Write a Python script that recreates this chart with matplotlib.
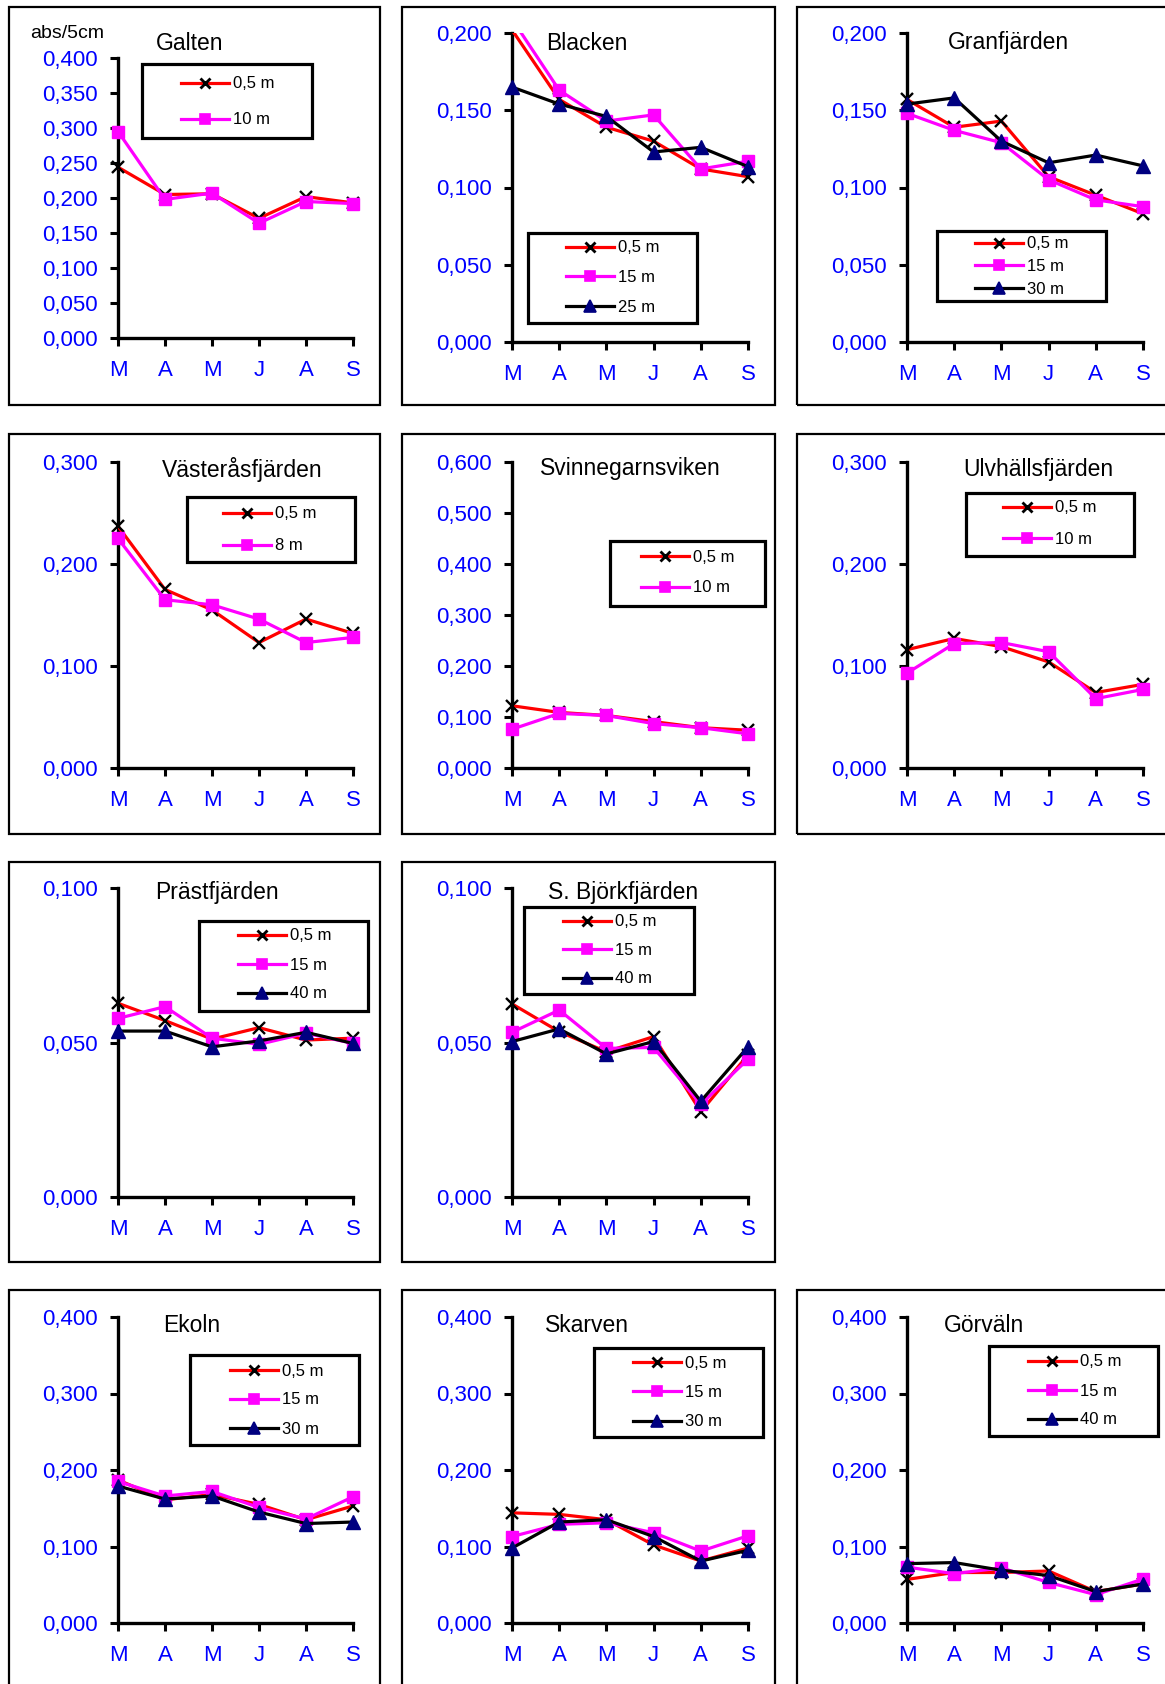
import numpy as np
import matplotlib
matplotlib.use("Agg")
import matplotlib.pyplot as plt
from matplotlib.lines import Line2D
from matplotlib.patches import Rectangle
from matplotlib.ticker import FuncFormatter

plt.rcParams['font.family'] = ['Liberation Sans', 'DejaVu Sans']

W, H = 1165, 1684
DPI = 100

months = ["M", "A", "M", "J", "A", "S"]

# Absorbance (abs/5cm) per month and sampling depth
galten_05 = [0.244, 0.205, 0.206, 0.171, 0.202, 0.193]
galten_10 = [0.295, 0.198, 0.207, 0.164, 0.195, 0.192]

blacken_05 = [0.202, 0.157, 0.139, 0.130, 0.112, 0.107]
blacken_15 = [0.209, 0.163, 0.143, 0.147, 0.112, 0.117]
blacken_25 = [0.165, 0.154, 0.146, 0.123, 0.126, 0.1135]

granf_05 = [0.157, 0.139, 0.143, 0.107, 0.095, 0.083]
granf_15 = [0.148, 0.137, 0.129, 0.105, 0.092, 0.0876]
granf_30 = [0.154, 0.158, 0.130, 0.116, 0.121, 0.114]

vasteras_05 = [0.237, 0.175, 0.155, 0.123, 0.146, 0.132]
vasteras_8 = [0.225, 0.165, 0.160, 0.146, 0.123, 0.128]

svinne_05 = [0.122, 0.109, 0.103, 0.091, 0.079, 0.074]
svinne_10 = [0.076, 0.107, 0.103, 0.087, 0.079, 0.067]

ulvh_05 = [0.116, 0.127, 0.119, 0.104, 0.074, 0.082]
ulvh_10 = [0.093, 0.122, 0.123, 0.114, 0.068, 0.077]

prast_05 = [0.0627, 0.0571, 0.0511, 0.0548, 0.0508, 0.0514]
prast_15 = [0.0578, 0.0616, 0.0514, 0.0494, 0.0530, 0.0497]
prast_40 = [0.0537, 0.0537, 0.0486, 0.0505, 0.0533, 0.0497]

bjork_05 = [0.0625, 0.0535, 0.0470, 0.0519, 0.0276, 0.0460]
bjork_15 = [0.0533, 0.0605, 0.0481, 0.0484, 0.0300, 0.0446]
bjork_40 = [0.0503, 0.0544, 0.0463, 0.0503, 0.0310, 0.0486]

ekoln_05 = [0.187, 0.161, 0.168, 0.155, 0.135, 0.153]
ekoln_15 = [0.185, 0.166, 0.172, 0.151, 0.136, 0.165]
ekoln_30 = [0.179, 0.162, 0.166, 0.145, 0.130, 0.132]

skarven_05 = [0.144, 0.142, 0.135, 0.102, 0.081, 0.098]
skarven_15 = [0.113, 0.129, 0.131, 0.118, 0.094, 0.114]
skarven_30 = [0.098, 0.132, 0.135, 0.113, 0.081, 0.095]

gorvaln_05 = [0.057, 0.066, 0.066, 0.068, 0.041, 0.051]
gorvaln_15 = [0.073, 0.0645, 0.072, 0.053, 0.037, 0.0575]
gorvaln_40 = [0.0776, 0.079, 0.069, 0.062, 0.041, 0.051]

LW = 2.3
STYLE_SURFACE = dict(color='#FF0000', marker='x', mec='black', mfc='black', ms=9.0, mew=1.7)
STYLE_MID = dict(color='#FF00FF', marker='s', mec='#FF00FF', mfc='#FF00FF', ms=8.5, mew=1.0)
STYLE_DEEP = dict(color='black', marker='^', mec='#000080', mfc='#000080', ms=9.5, mew=1.0)

# Layout in pixels: (left, top, right, bottom)
COLS_AX = [(118, 353), (512, 748), (907, 1143)]
COLS_FR = [(9, 380), (402, 775), (797, 1170)]
ROWS_FR = [(7, 405), (434, 834), (862, 1262), (1290, 1690)]

panels = [
    dict(title="Galten", tpos=(190, 43), ymax=0.4, step=0.05, r=0, c=0, ay=(58, 338),
         series=[("0,5 m", galten_05, STYLE_SURFACE), ("10 m", galten_10, STYLE_MID)],
         leg=dict(box=(142, 64, 312, 138), hx=181, y0=84, dy=36)),
    dict(title="Blacken", tpos=(587, 43), ymax=0.2, step=0.05, r=0, c=1, ay=(33, 342),
         series=[("0,5 m", blacken_05, STYLE_SURFACE), ("15 m", blacken_15, STYLE_MID),
                 ("25 m", blacken_25, STYLE_DEEP)],
         leg=dict(box=(528, 233, 697, 323), hx=566, y0=248, dy=29.5)),
    dict(title="Granfjärden", tpos=(1008, 42), ymax=0.2, step=0.05, r=0, c=2, ay=(33, 342),
         series=[("0,5 m", granf_05, STYLE_SURFACE), ("15 m", granf_15, STYLE_MID),
                 ("30 m", granf_30, STYLE_DEEP)],
         leg=dict(box=(937, 231, 1106, 301), hx=975, y0=244, dy=22.5)),
    dict(title="Västeråsfjärden", tpos=(242, 470), ymax=0.3, step=0.1, r=1, c=0, ay=(462, 768),
         series=[("0,5 m", vasteras_05, STYLE_SURFACE), ("8 m", vasteras_8, STYLE_MID)],
         leg=dict(box=(187, 497, 355, 562), hx=223, y0=514, dy=32)),
    dict(title="Svinnegarnsviken", tpos=(630, 468), ymax=0.6, step=0.1, r=1, c=1, ay=(462, 768),
         series=[("0,5 m", svinne_05, STYLE_SURFACE), ("10 m", svinne_10, STYLE_MID)],
         leg=dict(box=(610, 541, 765, 606), hx=641, y0=557, dy=31)),
    dict(title="Ulvhällsfjärden", tpos=(1038, 470), ymax=0.3, step=0.1, r=1, c=2, ay=(462, 768),
         series=[("0,5 m", ulvh_05, STYLE_SURFACE), ("10 m", ulvh_10, STYLE_MID)],
         leg=dict(box=(966, 493, 1134, 556), hx=1003, y0=508, dy=31)),
    dict(title="Prästfjärden", tpos=(217, 892), ymax=0.1, step=0.05, r=2, c=0, ay=(888, 1197),
         series=[("0,5 m", prast_05, STYLE_SURFACE), ("15 m", prast_15, STYLE_MID),
                 ("40 m", prast_40, STYLE_DEEP)],
         leg=dict(box=(199, 921, 368, 1011), hx=238, y0=936, dy=29)),
    dict(title="S. Björkfjärden", tpos=(623, 892), ymax=0.1, step=0.05, r=2, c=1, ay=(888, 1197),
         series=[("0,5 m", bjork_05, STYLE_SURFACE), ("15 m", bjork_15, STYLE_MID),
                 ("40 m", bjork_40, STYLE_DEEP)],
         leg=dict(box=(524, 907, 694, 994), hx=563, y0=922, dy=28.5)),
    dict(title="Ekoln", tpos=(192, 1325), ymax=0.4, step=0.1, r=3, c=0, ay=(1317, 1623),
         series=[("0,5 m", ekoln_05, STYLE_SURFACE), ("15 m", ekoln_15, STYLE_MID),
                 ("30 m", ekoln_30, STYLE_DEEP)],
         leg=dict(box=(190, 1355, 359, 1445), hx=230, y0=1371, dy=29)),
    dict(title="Skarven", tpos=(587, 1325), ymax=0.4, step=0.1, r=3, c=1, ay=(1317, 1623),
         series=[("0,5 m", skarven_05, STYLE_SURFACE), ("15 m", skarven_15, STYLE_MID),
                 ("30 m", skarven_30, STYLE_DEEP)],
         leg=dict(box=(594, 1348, 763, 1437), hx=633, y0=1363, dy=29.5)),
    dict(title="Görväln", tpos=(984, 1325), ymax=0.4, step=0.1, r=3, c=2, ay=(1317, 1623),
         series=[("0,5 m", gorvaln_05, STYLE_SURFACE), ("15 m", gorvaln_15, STYLE_MID),
                 ("40 m", gorvaln_40, STYLE_DEEP)],
         leg=dict(box=(989, 1346, 1158, 1436), hx=1028, y0=1362, dy=29)),
]

fig = plt.figure(figsize=(W / DPI, H / DPI), dpi=DPI)
fig.patch.set_facecolor('white')


def fx(px):
    return px / W


def fy(py):
    return 1 - py / H


BLUE = '#0000FF'
TICK_FS = 16
TITLE_FS = 16.5
LEG_FS = 12
leg_fs_px = LEG_FS * DPI / 72

renderer = fig.canvas.get_renderer()
probe = fig.text(0, 0, "0,5 m", fontsize=LEG_FS)
text_h = probe.get_window_extent(renderer).height
probe.remove()

# Chart-area frames
for p in panels:
    x0, x1 = COLS_FR[p['c']]
    y0, y1 = ROWS_FR[p['r']]
    fig.add_artist(Rectangle((fx(x0), fy(y1)), fx(x1 - x0), (y1 - y0) / H,
                             transform=fig.transFigure, fill=False,
                             edgecolor='black', lw=1.6, zorder=0))

x = np.arange(len(months))
fmt = FuncFormatter(lambda v, pos: f"{v:.3f}".replace('.', ','))

for p in panels:
    l, r_ = COLS_AX[p['c']]
    t, b = p['ay']
    ax = fig.add_axes([fx(l), fy(b), fx(r_ - l), (b - t) / H])
    ax.set_facecolor('none')
    ymax = p['ymax']
    ax.set_xlim(0, 5)
    ax.set_ylim(0, ymax)
    ax.set_xticks(x)
    ax.set_xticklabels(months)
    ax.set_yticks(np.arange(0, ymax + p['step'] / 2, p['step']))
    ax.yaxis.set_major_formatter(fmt)
    for side in ('top', 'right'):
        ax.spines[side].set_visible(False)
    for side in ('left', 'bottom'):
        ax.spines[side].set_linewidth(2.4)
        ax.spines[side].set_color('black')
        ax.spines[side].set_capstyle('projecting')
    ax.tick_params(axis='both', direction='out', length=5.5, width=2.2, color='black',
                   labelcolor=BLUE, labelsize=TICK_FS)
    ax.tick_params(axis='y', pad=9)
    ax.tick_params(axis='x', pad=10.5)

    handles = []
    for k, (label, vals, st) in enumerate(p['series']):
        v = np.asarray(vals, dtype=float)
        ax.plot(x, v, color=st['color'], lw=LW, zorder=3 + 2 * k)
        shown = np.where(v <= ymax, v, np.nan)
        ax.plot(x, shown, ls='none', marker=st['marker'], mec=st['mec'], mfc=st['mfc'],
                ms=st['ms'], mew=st['mew'], clip_on=False, zorder=4 + 2 * k)
        handles.append(Line2D([], [], color=st['color'], lw=LW, marker=st['marker'],
                              mec=st['mec'], mfc=st['mfc'], ms=st['ms'] * 0.85,
                              mew=st['mew'] * 1.2, label=label))

    lg = p['leg']
    bx0, by0, bx1, by1 = lg['box']
    fig.add_artist(Rectangle((fx(bx0), fy(by1)), fx(bx1 - bx0), (by1 - by0) / H,
                             transform=fig.transFigure, fill=False,
                             edgecolor='black', lw=2.3, zorder=5))
    spacing = max(lg['dy'] - text_h, 0) / leg_fs_px
    top = lg['y0'] - text_h / 2
    fig.legend(handles=handles, loc='upper left',
               bbox_to_anchor=(fx(lg['hx']), fy(top)), bbox_transform=fig.transFigure,
               frameon=False, borderpad=0, borderaxespad=0, fontsize=LEG_FS,
               handlelength=48 / leg_fs_px, handletextpad=4 / leg_fs_px,
               labelspacing=spacing, numpoints=1)

    tx, ty = p['tpos']
    fig.text(fx(tx), fy(ty), p['title'], ha='center', va='center',
             fontsize=TITLE_FS, color='black')

fig.text(fx(67), fy(34), "abs/5cm", ha='center', va='center', fontsize=14, color='black')

fig.savefig("out.png", dpi=DPI, facecolor='white')
